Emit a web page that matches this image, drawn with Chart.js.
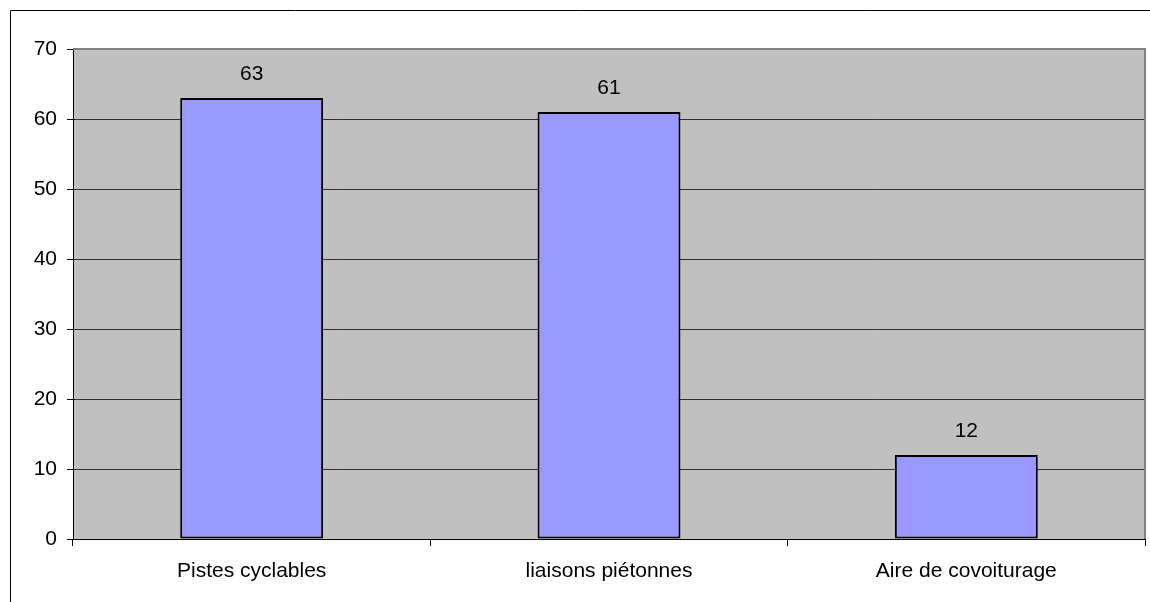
<!DOCTYPE html>
<html>
<head>
<meta charset="utf-8">
<script src="https://cdn.jsdelivr.net/npm/chart.js@4.4.0/dist/chart.umd.min.js"></script>
<style>
html,body{margin:0;padding:0;background:#fff;}
#wrap{position:relative;width:1150px;height:602px;}
</style>
</head>
<body>
<div id="wrap"><canvas id="c" width="1150" height="602"></canvas></div>
<script>
const categories = ["Pistes cyclables", "liaisons piétonnes", "Aire de covoiturage"];
const values = [63, 61, 12];
const yTicks = [0, 10, 20, 30, 40, 50, 60, 70];

const FONT = "'Liberation Sans', Arial, sans-serif";
const FS = 21;

const framePlugin = {
  id: 'frame',
  beforeDraw(chart) {
    const ctx = chart.ctx, a = chart.chartArea;
    ctx.save();
    ctx.fillStyle = '#fff';
    ctx.fillRect(0, 0, chart.width, chart.height);
    ctx.strokeStyle = '#000';
    ctx.lineWidth = 1;
    ctx.beginPath();
    ctx.moveTo(10.5, chart.height + 5);
    ctx.lineTo(10.5, 10.5);
    ctx.lineTo(chart.width + 5, 10.5);
    ctx.stroke();
    ctx.fillStyle = '#C0C0C0';
    ctx.fillRect(a.left, a.top, a.right - a.left, a.bottom - a.top);
    ctx.restore();
  },
  afterDatasetsDraw(chart) {
    const ctx = chart.ctx, a = chart.chartArea;
    ctx.save();
    ctx.strokeStyle = '#808080';
    ctx.lineWidth = 2;
    ctx.beginPath();
    ctx.moveTo(a.left, a.top);
    ctx.lineTo(a.right, a.top);
    ctx.lineTo(a.right, a.bottom);
    ctx.stroke();
    ctx.strokeStyle = '#000';
    ctx.lineWidth = 1;
    ctx.beginPath();
    ctx.moveTo(a.left, a.bottom + 0.5);
    ctx.lineTo(a.right, a.bottom + 0.5);
    ctx.stroke();
    // data labels
    const meta = chart.getDatasetMeta(0);
    ctx.fillStyle = '#000';
    ctx.font = FS + 'px ' + FONT;
    ctx.textAlign = 'center';
    ctx.textBaseline = 'middle';
    meta.data.forEach((bar, i) => {
      ctx.fillText(String(values[i]), bar.x, bar.y - 24);
    });
    ctx.restore();
  }
};

new Chart(document.getElementById('c'), {
  type: 'bar',
  data: {
    labels: categories,
    datasets: [{
      data: values,
      backgroundColor: '#9999FF',
      borderColor: '#000',
      borderWidth: 2,
      borderSkipped: false,
      categoryPercentage: 1,
      barPercentage: 0.4
    }]
  },
  options: {
    responsive: false,
    animation: false,
    devicePixelRatio: 1,
    layout: { padding: { left: 0, right: 5, top: 49, bottom: 0 } },
    plugins: { legend: { display: false }, tooltip: { enabled: false } },
    scales: {
      x: {
        afterFit(s) { s.height = 63; },
        grid: {
          offset: true,
          drawOnChartArea: false,
          drawTicks: true,
          tickLength: 7,
          tickColor: '#000',
          color: '#000'
        },
        border: { display: false },
        ticks: { color: '#000', font: { size: FS, family: FONT }, padding: 13, maxRotation: 0 }
      },
      y: {
        min: 0,
        max: 70,
        afterFit(s) { s.width = 73; },
        afterBuildTicks(s) { s.ticks = yTicks.map(v => ({ value: v })); },
        grid: {
          color: (c) => (c.tick && (c.tick.value === 0 || c.tick.value === 70)) ? 'rgba(0,0,0,0)' : '#303030',
          lineWidth: 1,
          tickLength: 6,
          tickColor: '#000'
        },
        border: { display: true, color: '#000', width: 1 },
        ticks: { color: '#000', font: { size: FS, family: FONT }, padding: 10 }
      }
    }
  },
  plugins: [framePlugin]
});
</script>
</body>
</html>
